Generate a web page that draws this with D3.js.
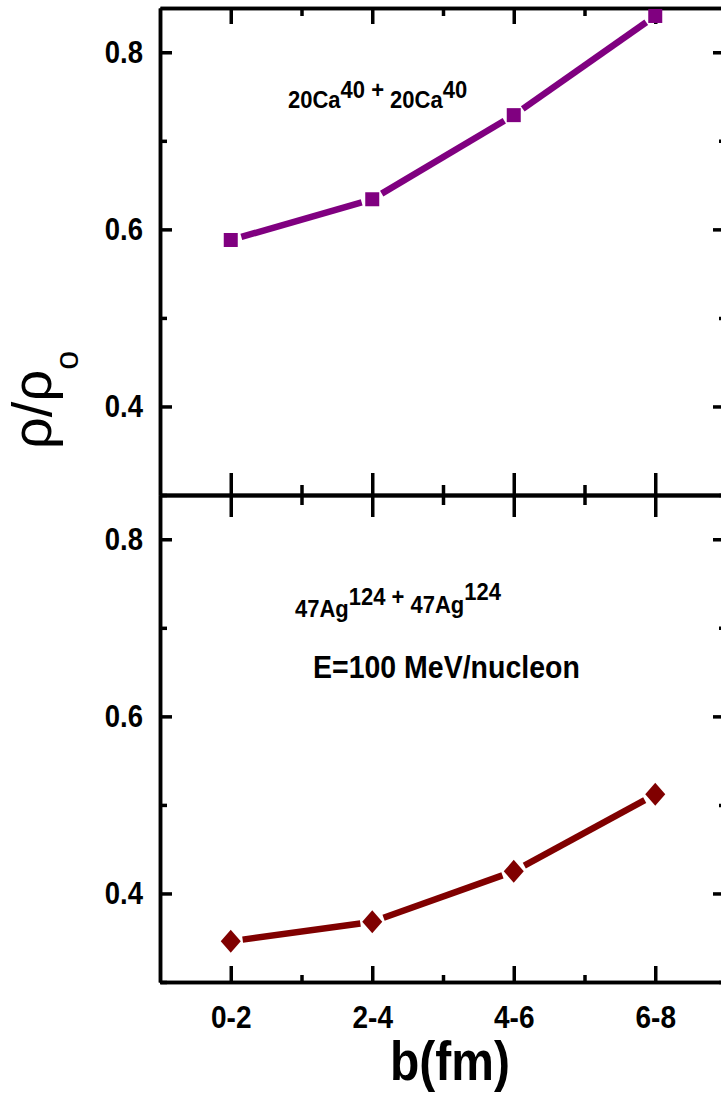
<!DOCTYPE html>
<meta charset="utf-8">
<head>
<script src="https://d3js.org/d3.v7.min.js"></script>
<style>
  body { margin: 0; background: #fff; }
  svg { display: block; }
  text { font-family: "Liberation Sans", Arial, sans-serif; }
</style>
</head>
<body>
<div id="chart"></div>
<script>

var width = 721, height = 1097;

// categories on the x axis (impact parameter bins)
var bins = ["0-2", "2-4", "4-6", "6-8"];
// rho/rho0
var caValues = [0.588, 0.634, 0.729, 0.841];
var agValues = [0.346, 0.368, 0.425, 0.512];
// y ticks
var majorY = [0.4, 0.6, 0.8];
var minorY = [0.3, 0.5, 0.7];
var majorX = [1, 2, 3, 4];
var minorX = [1.5, 2.5, 3.5];

var svg = d3.select("#chart").append("svg")
  .attr("width", width)
  .attr("height", height);

var x = d3.scaleLinear().domain([0.5, 4.5]).range([160, 726]);
var yTop = d3.scaleLinear().domain([0.3, 0.85]).range([495, 8]);
var yBot = d3.scaleLinear().domain([0.3, 0.85]).range([982, 495]);

function styleAxis(g) {
  g.selectAll(".domain").attr("stroke", "#000").attr("stroke-width", 3.5);
  g.selectAll(".tick line").attr("stroke", "#000").attr("stroke-width", 3.5);
  g.selectAll("text")
    .attr("fill", "#000")
    .style("font-size", "28px")
    .style("font-weight", "bold");
}

function drawPanel(y, top, bottom, showX) {
  // left axis with labels
  var gl = svg.append("g").attr("transform", "translate(160,0)")
    .call(d3.axisLeft(y).tickValues(majorY).tickSize(-12).tickSizeOuter(0)
      .tickPadding(17).tickFormat(d3.format(".1f")));
  styleAxis(gl);
  gl.selectAll("text").style("font-size", "27.5px").attr("transform", "scale(1,1.12)");
  var glm = svg.append("g").attr("transform", "translate(160,0)")
    .call(d3.axisLeft(y).tickValues(minorY).tickSize(-7).tickSizeOuter(0).tickFormat(""));
  styleAxis(glm);

  // right axis
  var gr = svg.append("g").attr("transform", "translate(726,0)")
    .call(d3.axisRight(y).tickValues(majorY).tickSize(-13).tickSizeOuter(0).tickFormat(""));
  styleAxis(gr);
  var grm = svg.append("g").attr("transform", "translate(726,0)")
    .call(d3.axisRight(y).tickValues(minorY).tickSize(-7).tickSizeOuter(0).tickFormat(""));
  styleAxis(grm);

  // top edge
  var gt = svg.append("g").attr("transform", "translate(0," + y.range()[1] + ")")
    .call(d3.axisTop(x).tickValues(majorX).tickSize(-top.major).tickSizeOuter(0).tickFormat(""));
  styleAxis(gt);
  var gtm = svg.append("g").attr("transform", "translate(0," + y.range()[1] + ")")
    .call(d3.axisTop(x).tickValues(minorX).tickSize(-top.minor).tickSizeOuter(0).tickFormat(""));
  styleAxis(gtm);

  // bottom edge
  var gb = svg.append("g").attr("transform", "translate(0," + y.range()[0] + ")")
    .call(d3.axisBottom(x).tickValues(majorX).tickSize(-bottom.major).tickSizeOuter(0)
      .tickPadding(21).tickFormat(function(d) { return showX ? bins[d - 1] : ""; }));
  styleAxis(gb);
  gb.selectAll("text").attr("transform", "scale(1,1.12)");
  var gbm = svg.append("g").attr("transform", "translate(0," + y.range()[0] + ")")
    .call(d3.axisBottom(x).tickValues(minorX).tickSize(-bottom.minor).tickSizeOuter(0).tickFormat(""));
  styleAxis(gbm);
}

drawPanel(yTop, {major: 16, minor: 8}, {major: 22, minor: 10}, false);
drawPanel(yBot, {major: 22, minor: 10}, {major: 16, minor: 7}, true);

// series line with gaps around the markers
function drawSeries(values, y, color, gap) {
  var pts = values.map(function(v, i) { return [x(i + 1), y(v)]; });
  var segs = d3.pairs(pts).map(function(p) {
    var dx = p[1][0] - p[0][0], dy = p[1][1] - p[0][1];
    var len = Math.sqrt(dx * dx + dy * dy);
    var ux = dx / len, uy = dy / len;
    return [p[0][0] + ux * gap, p[0][1] + uy * gap, p[1][0] - ux * gap, p[1][1] - uy * gap];
  });
  svg.append("g").selectAll("line")
    .data(segs)
    .enter().append("line")
    .attr("x1", function(d) { return d[0]; })
    .attr("y1", function(d) { return d[1]; })
    .attr("x2", function(d) { return d[2]; })
    .attr("y2", function(d) { return d[3]; })
    .attr("stroke", color)
    .attr("stroke-width", 6.5);
  return pts;
}

var caPts = drawSeries(caValues, yTop, "#800080", 11);
svg.append("g").selectAll("rect")
  .data(caPts)
  .enter().append("rect")
  .attr("x", function(d) { return d[0] - 7; })
  .attr("y", function(d) { return d[1] - 7; })
  .attr("width", 14)
  .attr("height", 14)
  .attr("fill", "#800080");

var agPts = drawSeries(agValues, yBot, "#800000", 12);
svg.append("g").selectAll("path")
  .data(agPts)
  .enter().append("path")
  .attr("d", function(d) {
    return "M" + d[0] + "," + (d[1] - 11.5) + "L" + (d[0] + 10) + "," + d[1] +
      "L" + d[0] + "," + (d[1] + 11.5) + "L" + (d[0] - 10) + "," + d[1] + "Z";
  })
  .attr("fill", "#800000");

// annotations (glyphs a bit taller than wide, like the original)
function nucleus(xPos, yPos, parts, sub, sup) {
  var t = svg.append("text")
    .attr("transform", "translate(" + xPos + "," + yPos + ") scale(1,1.1)")
    .style("font-size", "22px")
    .style("font-weight", "bold");
  parts.forEach(function(p) {
    t.append("tspan").attr("dy", p[1] === "sub" ? sub : p[1] === "sup" ? -sup : 0)
      .text(p[0]);
    // return to the baseline after a shifted piece
    if (p[1] === "sub") t.append("tspan").attr("dy", -sub).text("");
    if (p[1] === "sup") t.append("tspan").attr("dy", sup).text("");
  });
}

nucleus(288, 98, [["20", "sub"], ["Ca", ""], ["40", "sup"], [" + ", ""],
  ["20", "sub"], ["Ca", ""], ["40", "sup"]], 9, 9);
nucleus(295, 609, [["47", "sub"], ["Ag", ""], ["124", "sup"], [" + ", ""],
  ["47", "sub"], ["Ag", ""], ["124", "sup"]], 7.5, 11.5);

svg.append("text")
  .attr("transform", "translate(313,678) scale(1,1.12)")
  .style("font-size", "28.5px")
  .style("font-weight", "bold")
  .text("E=100 MeV/nucleon");

// axis titles
svg.append("text")
  .attr("transform", "translate(390,1080) scale(1,1.14)")
  .style("font-size", "48px")
  .style("font-weight", "bold")
  .text("b(fm)");

var yt = svg.append("text")
  .attr("transform", "translate(51,449) rotate(-90)")
  .style("font-size", "56px");
yt.append("tspan").text("\u03c1/\u03c1");
yt.append("tspan").attr("dy", 27).style("font-size", "34px").text("o");

</script>
</body>
